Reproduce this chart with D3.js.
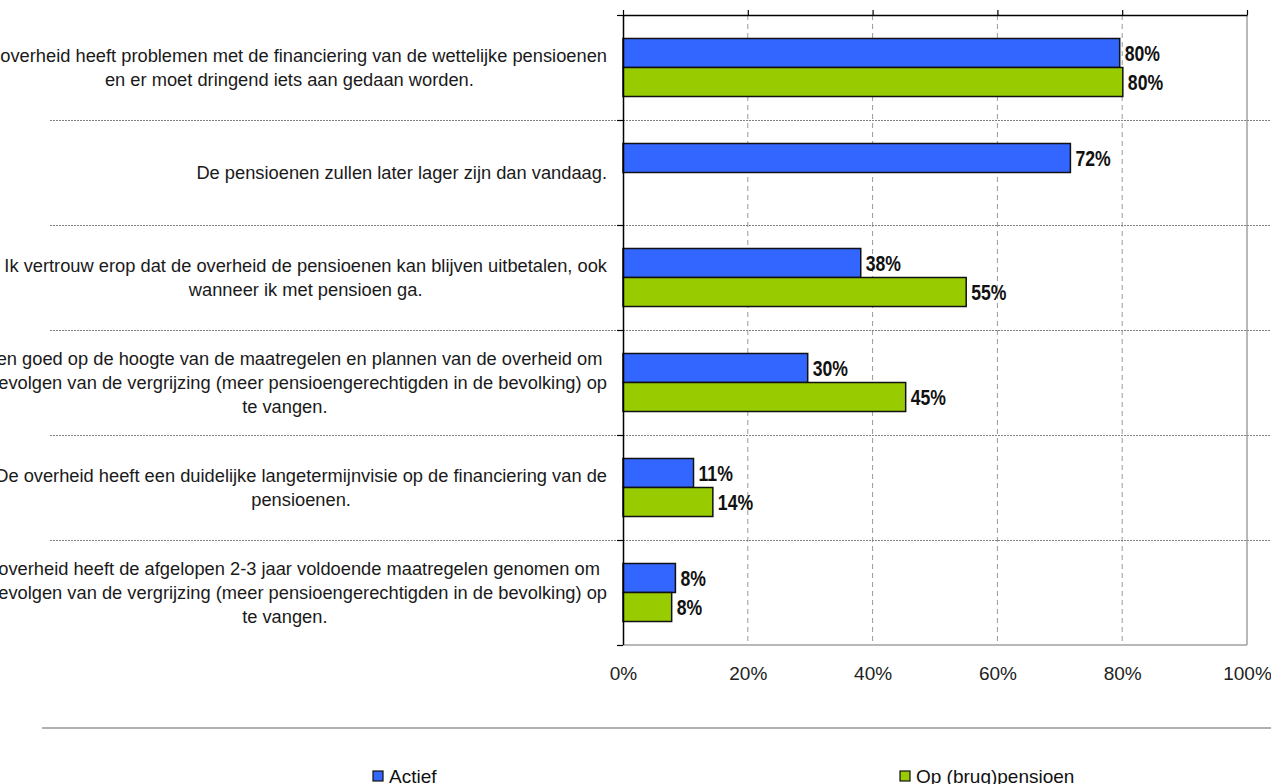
<!DOCTYPE html>
<html>
<head>
<meta charset="utf-8">
<script src="https://cdn.jsdelivr.net/npm/d3@7"></script>
<style>
  html, body { margin: 0; padding: 0; background: #fff; }
  svg { display: block; }
</style>
</head>
<body>
<svg id="chart" width="1271" height="784"></svg>
<script>
// ---- data ----
const categories = [
  "De overheid heeft problemen met de financiering van de wettelijke pensioenen en er moet dringend iets aan gedaan worden.",
  "De pensioenen zullen later lager zijn dan vandaag.",
  "Ik vertrouw erop dat de overheid de pensioenen kan blijven uitbetalen, ook wanneer ik met pensioen ga.",
  "Ik ben goed op de hoogte van de maatregelen en plannen van de overheid om de gevolgen van de vergrijzing (meer pensioengerechtigden in de bevolking) op te vangen.",
  "De overheid heeft een duidelijke langetermijnvisie op de financiering van de pensioenen.",
  "De overheid heeft de afgelopen 2-3 jaar voldoende maatregelen genomen om de gevolgen van de vergrijzing (meer pensioengerechtigden in de bevolking) op te vangen."
];
const categoryLines = [
  ["De overheid heeft problemen met de financiering van de wettelijke pensioenen", "en er moet dringend iets aan gedaan worden."],
  ["De pensioenen zullen later lager zijn dan vandaag."],
  ["Ik vertrouw erop dat de overheid de pensioenen kan blijven uitbetalen, ook", "wanneer ik met pensioen ga."],
  ["Ik ben goed op de hoogte van de maatregelen en plannen van de overheid om", "de gevolgen van de vergrijzing (meer pensioengerechtigden in de bevolking) op", "te vangen."],
  ["De overheid heeft een duidelijke langetermijnvisie op de financiering van de", "pensioenen."],
  ["De overheid heeft de afgelopen 2-3 jaar voldoende maatregelen genomen om", "de gevolgen van de vergrijzing (meer pensioengerechtigden in de bevolking) op", "te vangen."]
];
const seriesNames = ["Actief", "Op (brug)pensioen"];
const actief = [0.796, 0.717, 0.381, 0.296, 0.113, 0.084];
const pensioen = [0.801, null, 0.550, 0.453, 0.144, 0.078];
const tickValues = [0, 0.2, 0.4, 0.6, 0.8, 1.0];
const tickLabels = ["0%", "20%", "40%", "60%", "80%", "100%"];
const colors = ["#3366FF", "#99CC00"];

// ---- layout ----
const svg = d3.select("#chart");
const plot = { left: 623, right: 1247, top: 15, bottom: 645 };
const labelRight = 607;
const fontMain = "'Liberation Sans', Arial, sans-serif";

const x = d3.scaleLinear().domain([0, 1]).range([plot.left, plot.right]);
const y = d3.scaleBand().domain(categories).range([plot.top, plot.bottom]).paddingInner(0).paddingOuter(0);
const yInner = d3.scaleBand().domain(seriesNames).range([0, y.bandwidth()]).paddingInner(0).paddingOuter(0.81);
const yIdx = d3.scaleLinear().domain([0, categories.length]).range([plot.top, plot.bottom]);

// gridlines (dashed vertical)
svg.append("g").selectAll("line")
  .data(tickValues.slice(1, -1))
  .join("line")
  .attr("x1", d => x(d)).attr("x2", d => x(d))
  .attr("y1", plot.top).attr("y2", plot.bottom)
  .attr("stroke", "#9a9a9a").attr("stroke-width", 1)
  .attr("stroke-dasharray", "5,4");

// right & bottom border (grey)
svg.append("line").attr("x1", x(1)).attr("x2", x(1)).attr("y1", plot.top).attr("y2", plot.bottom)
  .attr("stroke", "#a0a0a0").attr("stroke-width", 1.5);
svg.append("line").attr("x1", plot.left).attr("x2", x(1)).attr("y1", plot.bottom).attr("y2", plot.bottom)
  .attr("stroke", "#a0a0a0").attr("stroke-width", 1.5);

// category separators (dotted)
svg.append("g").selectAll("line")
  .data(d3.range(1, categories.length))
  .join("line")
  .attr("x1", 50).attr("x2", 1271)
  .attr("y1", d => Math.round(yIdx(d)) + 0.5).attr("y2", d => Math.round(yIdx(d)) + 0.5)
  .attr("stroke", "#808080").attr("stroke-width", 1)
  .attr("stroke-dasharray", "2,1");

// bars
const rows = categories.map((c, i) => ({ c, vals: [actief[i], pensioen[i]] }));
const groups = svg.append("g").selectAll("g")
  .data(rows).join("g")
  .attr("transform", d => `translate(0,${y(d.c)})`);

groups.selectAll("rect")
  .data(d => d.vals.map((v, j) => ({ v, s: seriesNames[j], j })).filter(e => e.v != null))
  .join("rect")
  .attr("x", x(0))
  .attr("y", e => yInner(e.s))
  .attr("width", e => x(e.v) - x(0))
  .attr("height", yInner.bandwidth())
  .attr("fill", e => colors[e.j])
  .attr("stroke", "#111").attr("stroke-width", 1.5);

// value labels (bold, condensed)
const fmt = d3.format(".0%");
groups.selectAll("text")
  .data(d => d.vals.map((v, j) => ({ v, s: seriesNames[j], j })).filter(e => e.v != null))
  .join("text")
  .attr("transform", e => `translate(${x(e.v) + 5},${yInner(e.s) + yInner.bandwidth() / 2}) scale(0.84,1.05)`)
  .attr("dy", "0.36em")
  .attr("font-family", fontMain)
  .attr("font-weight", "bold")
  .attr("font-size", 21)
  .attr("fill", "#111")
  .text(e => fmt(e.v));

// left axis (category boundaries)
const leftAxis = d3.axisLeft(yIdx).tickValues(d3.range(0, categories.length + 1)).tickSize(6).tickFormat("");
const gl = svg.append("g").attr("transform", `translate(${plot.left},0)`).call(leftAxis);
gl.select(".domain").attr("stroke", "#000").attr("stroke-width", 1.5).attr("d", `M0.5,${plot.top}V${plot.bottom}`);
gl.selectAll(".tick line").attr("stroke", "#000").attr("stroke-width", 1.2);

// top axis
const topAxis = d3.axisTop(x).tickValues(tickValues).tickSize(5).tickSizeOuter(0).tickFormat("");
const gt = svg.append("g").attr("transform", `translate(0,${plot.top})`).call(topAxis);
gt.select(".domain").attr("stroke", "#000").attr("stroke-width", 1.5);
gt.selectAll(".tick line").attr("stroke", "#000").attr("stroke-width", 1.2);

// bottom tick labels
const bottomAxis = d3.axisBottom(x).tickValues(tickValues).tickSize(0).tickPadding(22)
  .tickFormat((d, i) => tickLabels[i]);
const gb = svg.append("g").attr("transform", `translate(0,${plot.bottom})`).call(bottomAxis);
gb.select(".domain").remove();
gb.selectAll("text").attr("font-family", fontMain).attr("font-size", 19).attr("fill", "#222");

// category labels
const lineH = 24;
const labels = svg.append("g").attr("font-family", fontMain).attr("font-size", 18.3).attr("fill", "#1a1a1a");
categories.forEach((c, i) => {
  const lines = categoryLines[i];
  const cy = y(c) + y.bandwidth() / 2;
  const t = labels.append("text").attr("text-anchor", "middle");
  const spans = lines.map((ln, k) => t.append("tspan")
    .attr("y", cy + (k - (lines.length - 1) / 2) * lineH)
    .attr("dy", "0.35em")
    .text(ln));
  const maxW = d3.max(spans, s => s.node().getComputedTextLength());
  spans.forEach(s => s.attr("x", labelRight - maxW / 2));
});

// legend separator
svg.append("line").attr("x1", 42).attr("x2", 1271).attr("y1", 728).attr("y2", 728)
  .attr("stroke", "#b0b0b0").attr("stroke-width", 2);

// legend
const legendX = [373, 900];
const lg = svg.append("g").selectAll("g").data(seriesNames).join("g")
  .attr("transform", (d, i) => `translate(${legendX[i]},771)`);
lg.append("rect").attr("width", 10).attr("height", 10)
  .attr("fill", (d, i) => colors[i]).attr("stroke", "#111").attr("stroke-width", 1.2);
lg.append("text").attr("x", 16).attr("y", 11.5)
  .attr("font-family", fontMain).attr("font-size", 19).attr("fill", "#111")
  .text(d => d);
</script>
</body>
</html>
